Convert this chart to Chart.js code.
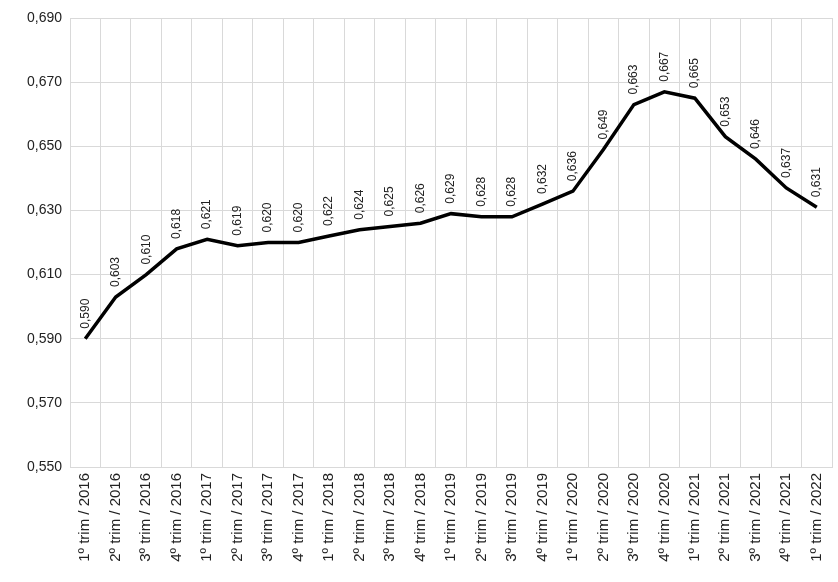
<!DOCTYPE html>
<html>
<head>
<meta charset="utf-8">
<script src="https://cdn.jsdelivr.net/npm/chart.js@4"></script>
<style>
  html, body { margin: 0; padding: 0; background: #fff; }
  #wrap { width: 838px; height: 582px; }
</style>
</head>
<body>
<div id="wrap"><canvas id="chart" width="838" height="582"></canvas></div>
<script>
const quarters = ['1º', '2º', '3º', '4º'];
const years = [2016, 2017, 2018, 2019, 2020, 2021, 2022];
const labels = [];
years.forEach(y => quarters.forEach(q => labels.push(q + ' trim / ' + y)));
labels.length = 25; // ate 1º trim / 2022

const values = [0.590, 0.603, 0.610, 0.618, 0.621, 0.619, 0.620, 0.620, 0.622, 0.624,
  0.625, 0.626, 0.629, 0.628, 0.628, 0.632, 0.636, 0.649, 0.663, 0.667,
  0.665, 0.653, 0.646, 0.637, 0.631];

const fmt = v => v.toFixed(3).replace('.', ',');

// rotulos verticais acima de cada ponto
const pointLabels = {
  id: 'pointLabels',
  afterDatasetsDraw(c) {
    const g = c.ctx;
    const meta = c.getDatasetMeta(0);
    g.save();
    g.font = '12px "Liberation Sans", Arial, sans-serif';
    g.fillStyle = '#222';
    g.textAlign = 'left';
    g.textBaseline = 'middle';
    meta.data.forEach((p, i) => {
      g.save();
      g.translate(p.x, p.y - 10);
      g.rotate(-Math.PI / 2);
      g.fillText(fmt(values[i]), 0, 0);
      g.restore();
    });
    g.restore();
  }
};

new Chart(document.getElementById('chart'), {
  type: 'line',
  data: {
    labels: labels,
    datasets: [{
      data: values,
      borderColor: '#000',
      borderWidth: 3.5,
      pointRadius: 0,
      tension: 0,
      fill: false
    }]
  },
  options: {
    responsive: false,
    animation: false,
    layout: { padding: { top: 18, right: 6, left: 0, bottom: 0 } },
    plugins: { legend: { display: false }, tooltip: { enabled: false } },
    scales: {
      x: {
        offset: true,
        grid: { color: '#d9d9d9', offset: true, drawTicks: false },
        border: { color: '#d9d9d9' },
        afterFit: s => { s.height = 115; s.paddingRight = 0; },
        ticks: {
          color: '#222', maxRotation: 90, minRotation: 90, autoSkip: false, padding: 6,
          font: { family: '"Liberation Sans", Arial, sans-serif', size: 15 }
        }
      },
      y: {
        min: 0.55, max: 0.69,
        grid: { color: '#d9d9d9', drawTicks: false },
        border: { display: false },
        afterFit: s => { s.width = 70; },
        ticks: {
          stepSize: 0.02, color: '#222', padding: 8,
          callback: v => fmt(v),
          font: { family: '"Liberation Sans", Arial, sans-serif', size: 14 }
        }
      }
    }
  },
  plugins: [pointLabels]
});
</script>
</body>
</html>
